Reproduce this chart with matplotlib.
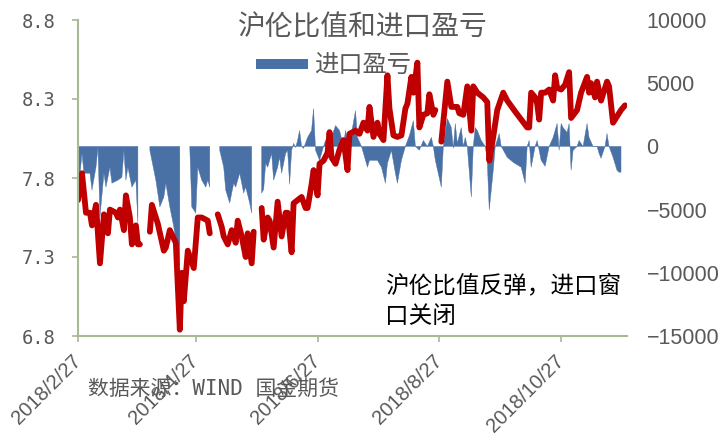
import matplotlib
matplotlib.use('Agg')
import matplotlib.pyplot as plt
import numpy as np
import pandas as pd
from matplotlib.patches import Patch
from matplotlib.font_manager import FontProperties

nan = np.nan
START = pd.Timestamp('2018-02-27')
END_DAY = 275

# 沪伦比值 (left axis): day offset from 2018-02-27, value
ratio_days = [0, 2, 4, 6, 7, 9, 11, 13, 15, 16, 19, 20, 21, 23, 24, 26, 27, 29, 30, 31, 33,
              36, 37, 40, 43, 44, 46, 49, 51, 52, 53, 55, 58, 60, 62, 65, 66, 68,
              70, 72, 73, 75, 77, 79, 80, 82, 84, 85, 87, 88, 90,
              92, 93, 95, 96, 98, 100, 102, 104, 105, 107, 108, 110, 112, 114, 115, 117, 118, 120, 121, 123,
              125, 126, 127, 129, 131, 133, 135, 136, 139, 141, 143, 145, 146, 148, 150, 151, 153, 155, 156,
              158, 160, 162, 164, 165, 167, 168, 170, 171, 173, 175, 176, 178, 179, 181,
              182, 185, 187, 190, 191, 193, 195, 197, 198, 200, 203, 205, 206, 208, 210, 213, 215, 219, 222,
              225, 226, 227, 229, 230, 231, 232, 234, 236, 238, 239, 240, 242, 244, 246, 247, 250, 252, 255,
              256, 257, 259, 260, 262, 265, 266, 268, 270, 272, 274]
ratio_vals = [7.66, 7.83, 7.58, 7.58, 7.50, 7.63, 7.26, 7.57, 7.45, 7.60, 7.58, 7.55, 7.60, 7.47, 7.69, 7.55, 7.38, 7.50, 7.38, 7.38, nan,
              7.46, 7.63, 7.51, 7.34, 7.36, 7.47, 7.39, 6.84, 7.20, 7.02, 7.34, 7.23, 7.55, 7.55, 7.53, 7.45, nan,
              7.57, 7.49, 7.43, 7.38, 7.47, 7.39, 7.53, 7.43, 7.30, 7.45, 7.26, 7.46, nan,
              7.61, 7.41, 7.55, 7.53, 7.36, 7.65, 7.43, 7.58, 7.58, 7.33, 7.64, 7.66, 7.68, 7.61, 7.61, 7.76, 7.85, 7.69, 7.89, 7.91,
              7.96, 8.09, 7.93, 7.89, 7.98, 8.04, 7.85, 8.08, 8.10, 8.08, 8.15, 8.10, 8.25, 8.06, 8.15, 8.08, 8.04, 8.45, 8.24,
              8.07, 8.06, 8.07, 8.24, 8.27, 8.44, 8.34, 8.53, 8.12, 8.20, 8.21, 8.33, 8.20, 8.23, nan,
              8.03, 8.41, 8.25, 8.25, 8.21, 8.20, 8.38, 8.10, 8.38, 8.34, 8.31, 8.28, 7.91, 8.06, 8.23, 8.34, 8.29, 8.22, 8.17,
              8.12, 8.12, 8.34, 8.31, 8.27, 8.17, 8.34, 8.34, 8.36, 8.29, 8.45, 8.37, 8.36, 8.39, 8.47, 8.18, 8.23, 8.34, 8.44,
              8.34, 8.40, 8.31, 8.41, 8.29, 8.41, 8.38, 8.15, 8.19, 8.23, 8.26]

# 进口盈亏 (right axis)
pnl_days = [0, 2, 3, 6, 7, 9, 10, 11, 13, 14, 16, 17, 20, 22, 23, 24, 25, 27, 29, 30, 33,
            36, 39, 41, 43, 44, 46, 48, 50, 51, 53,
            56, 57, 59, 60, 62, 64, 65, 66, 68,
            71, 73, 74, 76, 78, 79, 81, 83, 84, 86, 87, 89,
            92, 93, 94, 95, 97, 98, 100, 101, 102, 104, 105, 106, 107, 108, 109, 110, 111, 112, 113, 115, 117,
            118, 119, 121, 123, 124, 126, 127, 129, 131, 133, 134, 135, 137, 139, 140, 142, 145, 146, 148, 150,
            152, 154, 155, 157, 159, 160, 162, 164, 166, 168, 169, 171, 173, 175, 177, 178, 179,
            182, 183, 185, 187, 188, 189, 190, 192, 193, 194, 195, 197, 198, 199, 200, 202, 204, 205, 206, 208,
            209, 211, 212, 215, 218, 222, 224, 225, 226, 227, 229, 230, 232, 234, 236, 238, 240, 241, 242, 243,
            245, 246, 247, 248, 250, 251, 253, 255, 256, 258, 260, 261, 262, 264, 265, 266, 268, 270, 271, 272]
pnl_vals = [-3850, -550, -2120, -2120, -3460, -1650, -80, -5580, -2120, -3220, -1650, -2910, -2670, -2440, -310, -2670, -1650, -3220, -2670, -6050, nan,
            -310, -2670, -4790, -4010, -2910, -4790, -6370, -8410, -9500, nan,
            -80, -4790, -5270, -1650, -2670, -3220, -2670, -3220, nan,
            -310, -1650, -3460, -4480, -2910, -3220, -2120, -3690, -3220, -4480, -5270, nan,
            -3700, -3400, -1340, -1650, -550, -2670, -1650, -860, -2120, -550, -310, -3000, -310, 240, -80, 470, 1260, 0, -160, 710, 1260,
            2990, -310, -1100, 0, 470, 0, 710, 1650, 1260, 0, 1260, 470, 1020, 2830, 710, 0, -1650, -1100, -1100, -1100,
            -1650, -2910, -1340, -310, -2120, -2910, -1100, 0, 860, 2040, 0, -300, 470, 0, 710, 0, -1100,
            -3220, 0, 2200, 1490, -160, 1810, 240, 1490, 0, 710, 0, -4010, 0, 1490, 1260, 470, 0, -1100, -5030, -1890,
            0, 1020, 0, -860, -1260, -1650, -2910, 0, 470, -1650, 0, 470, -1100, -1570, 0, 710, 1810, -310, 1810, 1490,
            1100, 1810, -1890, -310, 0, 470, 0, 1810, 710, 0, 0, -550, -940, 0, 1020, 0, -860, -1890, -2040, -2040]

tick_dates = ['2018-02-27', '2018-04-27', '2018-06-27', '2018-08-27', '2018-10-27']
tick_labels = ['2018/2/27', '2018/4/27', '2018/6/27', '2018/8/27', '2018/10/27']
left_ticks = [6.8, 7.3, 7.8, 8.3, 8.8]
left_labels = ['6.8', '7.3', '7.8', '8.3', '8.8']
right_ticks = [-15000, -10000, -5000, 0, 5000, 10000]

title = '沪伦比值和进口盈亏'
legend_label = '进口盈亏'
note = '沪伦比值反弹，进口窗\n口关闭'
source = '数据来源：WIND 国金期货'

RED = '#C00000'
BLUE = '#4A71A6'
AXC = '#A9B895'
GRAY = '#595959'
CJK = ['Noto Sans CJK SC', 'DejaVu Sans']

ratio_x = START + pd.to_timedelta(ratio_days, unit='D')
pnl_x = START + pd.to_timedelta(pnl_days, unit='D')

fig = plt.figure(figsize=(7.18, 4.38), dpi=100)
ax = fig.add_axes([78/718, 102/438, 549/718, 316/438])
ax2 = ax.twinx()

ax2.fill_between(pnl_x, 0, np.array(pnl_vals, dtype=float), color=BLUE, lw=0.3, edgecolor=BLUE)
ax.plot(ratio_x, ratio_vals, color=RED, lw=4.2, solid_joinstyle='round', solid_capstyle='round')

ax.set_zorder(2)
ax.patch.set_visible(False)
ax2.set_zorder(1)

ax.set_xlim(START, START + pd.Timedelta(days=END_DAY))
ax.set_ylim(6.8, 8.8)
ax2.set_ylim(-15000, 10000)

for s in ['top', 'right']:
    ax.spines[s].set_visible(False)
for s in ax2.spines.values():
    s.set_visible(False)
for s in ['left', 'bottom']:
    ax.spines[s].set_color(AXC)
    ax.spines[s].set_linewidth(1.5)

ax.set_yticks(left_ticks)
ax.set_yticklabels(left_labels, family='DejaVu Sans Mono', fontsize=13.5, color=GRAY)
ax.tick_params(axis='y', length=4, width=1.2, color=AXC, pad=12)

ax.set_xticks(pd.to_datetime(tick_dates))
ax.set_xticklabels(tick_labels, rotation=45, ha='right', va='center', rotation_mode='anchor',
                   family='Liberation Sans', fontsize=14.5, color=GRAY)
ax.tick_params(axis='x', length=4, width=1.2, color=AXC, pad=12)

ax2.set_yticks(right_ticks)
ax2.set_yticklabels([f'{v}'.replace('-', '\u2212') for v in right_ticks],
                    family='Liberation Sans', fontsize=15.5, color=GRAY)
ax2.tick_params(axis='y', length=0, pad=14)

fig.text(363/718, 1 - 28/438, title, ha='center', va='center', fontsize=20, color=GRAY, family=CJK)

fig.legend(handles=[Patch(facecolor=BLUE, edgecolor='none')], labels=[legend_label],
           loc='center left', bbox_to_anchor=(244/718, 1 - 66/438), bbox_transform=fig.transFigure,
           frameon=False, borderpad=0, handlelength=2.15, handleheight=0.25, handletextpad=0.25,
           prop=FontProperties(family=CJK, size=17.5), labelcolor=GRAY)

fig.text(385/718, 1 - 301/438, note, ha='left', va='center', fontsize=17, color='black',
         family=CJK, linespacing=1.4)

fig.text(88/718, 1 - 389/438, source, ha='left', va='center', fontsize=15, color=GRAY,
         family=['DejaVu Sans Mono', 'Noto Sans CJK SC'])

fig.savefig('out.png', dpi=100)
